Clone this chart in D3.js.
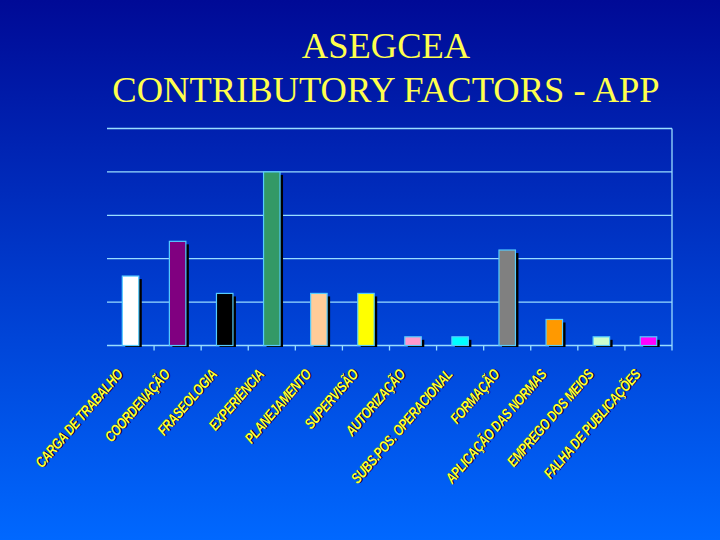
<!DOCTYPE html>
<html>
<head>
<meta charset="utf-8">
<script src="https://cdn.jsdelivr.net/npm/d3@7"></script>
<style>
  html, body { margin: 0; padding: 0; }
  body { width: 720px; height: 540px; overflow: hidden; }
</style>
</head>
<body>
<div id="vis"></div>
<script>
const width = 720;
const height = 540;

// data
const factors = [
    "CARGA DE TRABALHO", "COORDENAÇÃO", "FRASEOLOGIA", "EXPERIÊNCIA",
    "PLANEJAMENTO", "SUPERVISÃO", "AUTORIZAÇÃO", "SUBS.POS. OPERACIONAL",
    "FORMAÇÃO", "APLICAÇÃO DAS NORMAS", "EMPREGO DOS MEIOS", "FALHA DE PUBLICAÇÕES"
];
const counts = [8, 12, 6, 20, 6, 6, 1, 1, 11, 3, 1, 1];
const barColors = [
    "#ffffff", "#800080", "#000000", "#339966", "#ffcc99", "#ffff00",
    "#ff99cc", "#00ffff", "#808080", "#ff9900", "#ccffcc", "#ff00ff"
];
const yTicks = [0, 5, 10, 15, 20, 25];
const titleLines = ["ASEGCEA", "CONTRIBUTORY FACTORS - APP"];

const plot = { left: 107, right: 672, top: 128.5, bottom: 345.5 };

var svg = d3.select("#vis")
    .append("svg")
    .attr("width", width)
    .attr("height", height);

var defs = svg.append("defs");
var grad = defs.append("linearGradient")
    .attr("id", "bg")
    .attr("x1", 0).attr("y1", 0)
    .attr("x2", 0).attr("y2", 1);
grad.append("stop").attr("offset", "0%").attr("stop-color", "#000a96");
grad.append("stop").attr("offset", "100%").attr("stop-color", "#0068ff");

svg.append("rect")
    .attr("width", width)
    .attr("height", height)
    .attr("fill", "url(#bg)");

// title
svg.append("g")
    .selectAll("text")
    .data(titleLines)
    .enter()
    .append("text")
    .attr("x", 386)
    .attr("y", function(d, i) { return 58 + i * 44; })
    .attr("text-anchor", "middle")
    .style("font-family", "'Liberation Serif', 'Times New Roman', serif")
    .style("font-size", "36.5px")
    .attr("fill", "#ffff4d")
    .text(function(d) { return d; });

var x = d3.scaleBand()
    .domain(factors)
    .range([plot.left, plot.right])
    .padding(0);

var y = d3.scaleLinear()
    .domain([0, 25])
    .range([plot.bottom, plot.top]);

const gridColor = "#99ddff";

// gridlines
svg.append("g")
    .selectAll("line")
    .data(yTicks)
    .enter()
    .append("line")
    .attr("x1", plot.left)
    .attr("x2", plot.right)
    .attr("y1", function(d) { return y(d); })
    .attr("y2", function(d) { return y(d); })
    .attr("stroke", gridColor)
    .attr("stroke-width", 1.3);

// right frame line
svg.append("line")
    .attr("x1", plot.right).attr("x2", plot.right)
    .attr("y1", y(25)).attr("y2", plot.bottom + 5)
    .attr("stroke", gridColor)
    .attr("stroke-width", 1.3);

// category ticks at band boundaries
svg.append("g")
    .selectAll("line")
    .data(factors.slice(1))
    .enter()
    .append("line")
    .attr("x1", function(d) { return x(d); })
    .attr("x2", function(d) { return x(d); })
    .attr("y1", plot.bottom)
    .attr("y2", plot.bottom + 5)
    .attr("stroke", gridColor)
    .attr("stroke-width", 1.3);

const barW = x.bandwidth() * 0.35;

var bars = svg.append("g")
    .selectAll("g")
    .data(factors)
    .enter()
    .append("g");

// drop shadow
bars.append("rect")
    .attr("x", function(d) { return x(d) + (x.bandwidth() - barW) / 2 + 3; })
    .attr("y", function(d, i) { return y(counts[i]) + 3; })
    .attr("width", barW)
    .attr("height", function(d, i) { return plot.bottom + 1.5 - y(counts[i]) - 3; })
    .attr("fill", "#000000");

bars.append("rect")
    .attr("x", function(d) { return x(d) + (x.bandwidth() - barW) / 2; })
    .attr("y", function(d, i) { return y(counts[i]); })
    .attr("width", barW)
    .attr("height", function(d, i) { return plot.bottom - y(counts[i]); })
    .attr("fill", function(d, i) { return barColors[i]; })
    .attr("stroke", "#55ccff")
    .attr("stroke-width", 1.2);

// rotated category labels (narrow italic look)
var labels = svg.append("g")
    .selectAll("g")
    .data(factors)
    .enter()
    .append("g")
    .attr("transform", function(d) {
        return "translate(" + (x(d) + x.bandwidth() / 2 - 7) + ",375) rotate(-49) scale(0.79,1)";
    });

labels.append("text")
    .attr("x", 1.3)
    .attr("y", 1)
    .attr("text-anchor", "end")
    .attr("class", "lbl")
    .attr("fill", "#000022")
    .text(function(d) { return d; });

labels.append("text")
    .attr("text-anchor", "end")
    .attr("class", "lbl")
    .attr("fill", "#ffff33")
    .text(function(d) { return d; });

svg.selectAll(".lbl")
    .style("font-family", "'Liberation Sans', Arial, sans-serif")
    .style("font-size", "15px")
    .style("font-style", "italic")
    .style("font-weight", "bold")
    .style("letter-spacing", "-0.6px");
</script>
</body>
</html>
